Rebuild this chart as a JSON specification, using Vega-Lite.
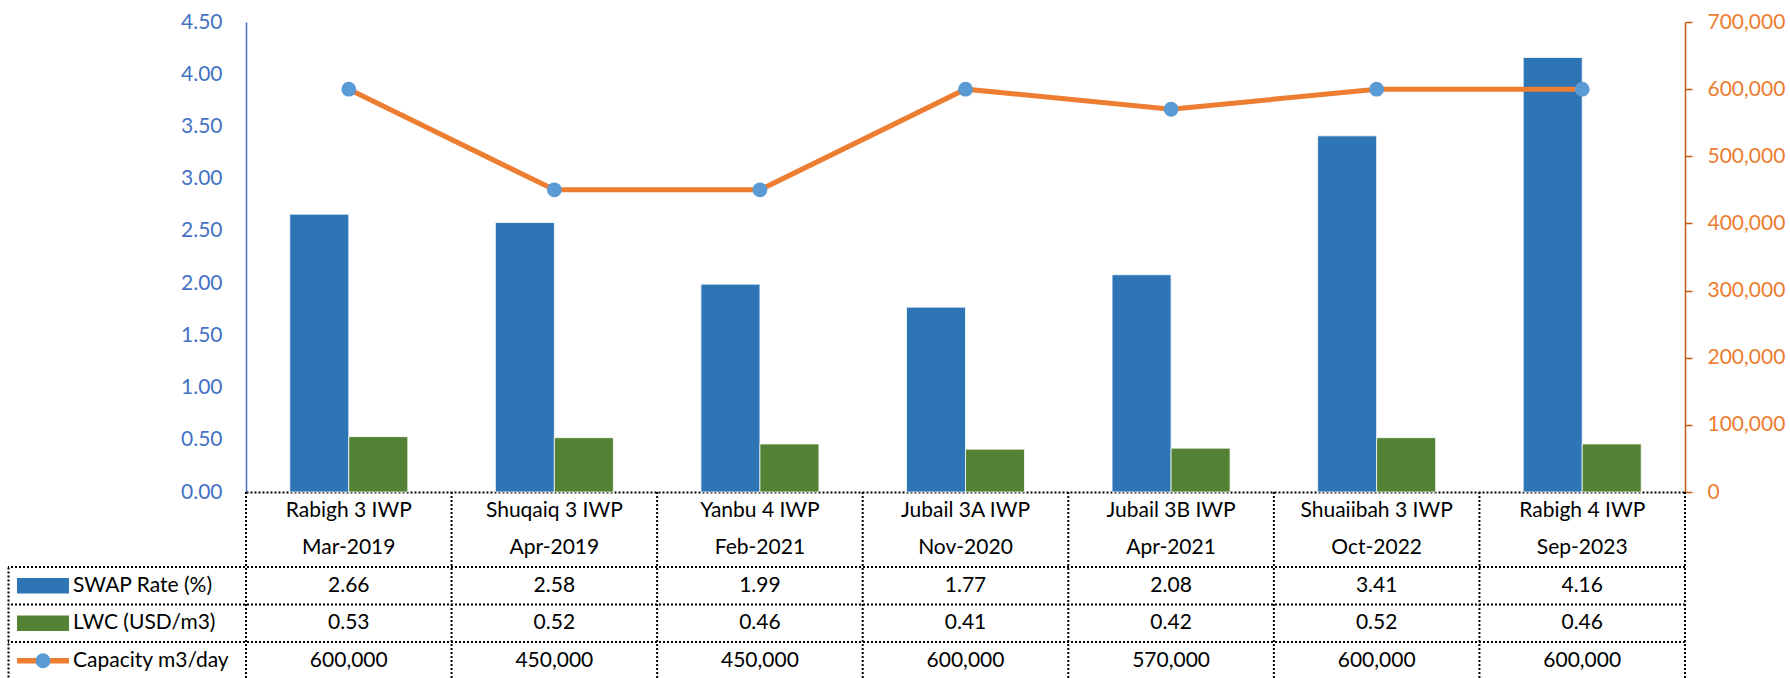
{
  "$schema": "https://vega.github.io/schema/vega-lite/v6.json",
  "width": 1677,
  "height": 656,
  "autosize": {"type": "none"},
  "padding": {"left": 8, "top": 22, "right": 105, "bottom": 0},
  "background": "white",
  "config": {"view": {"stroke": null}, "font": "Lato", "axis": {"grid": false}, "text": {"font": "Lato"}},
  "datasets": {
    "plants": [
      {"project": "Rabigh 3 IWP", "date": "Mar-2019", "swap": 2.66, "lwc": 0.53, "capacity": 600000},
      {"project": "Shuqaiq 3 IWP", "date": "Apr-2019", "swap": 2.58, "lwc": 0.52, "capacity": 450000},
      {"project": "Yanbu 4 IWP", "date": "Feb-2021", "swap": 1.99, "lwc": 0.46, "capacity": 450000},
      {"project": "Jubail 3A IWP", "date": "Nov-2020", "swap": 1.77, "lwc": 0.41, "capacity": 600000},
      {"project": "Jubail 3B IWP", "date": "Apr-2021", "swap": 2.08, "lwc": 0.42, "capacity": 570000},
      {"project": "Shuaiibah 3 IWP", "date": "Oct-2022", "swap": 3.41, "lwc": 0.52, "capacity": 600000},
      {"project": "Rabigh 4 IWP", "date": "Sep-2023", "swap": 4.16, "lwc": 0.46, "capacity": 600000}
    ],
    "series": [
      {"series": "SWAP Rate (%)"},
      {"series": "LWC (USD/m3)"},
      {"series": "Capacity m3/day"}
    ]
  },
  "layer": [
    {
      "data": {"name": "plants"},
      "encoding": {
        "x": {
          "field": "project", "type": "nominal", "sort": null,
          "scale": {"type": "band", "range": [238, 1677], "paddingInner": 0.426, "paddingOuter": 0.213},
          "axis": {"orient": "bottom", "offset": -186, "labels": false, "ticks": false, "title": null, "domainColor": "#000000", "domainDash": [2, 2], "domainWidth": 2}
        }
      },
      "layer": [
        {
          "transform": [{"fold": ["swap", "lwc"], "as": ["key", "value"]}],
          "mark": {"type": "bar", "stroke": "#ffffff", "strokeWidth": 0.75},
          "encoding": {
            "xOffset": {"field": "key", "type": "nominal", "sort": ["swap", "lwc"], "scale": {"domain": ["swap", "lwc"], "paddingInner": 0, "paddingOuter": 0}},
            "y": {
              "field": "value", "type": "quantitative",
              "scale": {"domain": [0, 4.5], "range": [470, 0], "nice": false},
              "axis": {"orient": "left", "offset": -238, "values": [0, 0.5, 1, 1.5, 2, 2.5, 3, 3.5, 4, 4.5], "format": ".2f", "ticks": false, "tickSize": 0, "labelPadding": 24, "labelColor": "#4472C4", "labelFontSize": 21, "labelFont": "Lato", "domainColor": "#4472C4", "domainWidth": 1.5, "title": null}
            },
            "color": {"field": "key", "type": "nominal", "scale": {"domain": ["swap", "lwc"], "range": ["#2E75B6", "#548235"]}, "legend": null}
          }
        },
        {
          "encoding": {
            "y": {
              "field": "capacity", "type": "quantitative",
              "scale": {"domain": [0, 700000], "range": [470, 0], "nice": false},
              "axis": {"orient": "right", "values": [0, 100000, 200000, 300000, 400000, 500000, 600000, 700000], "format": ",.0f", "tickSize": 7, "tickColor": "#C55A11", "tickWidth": 1.5, "domainColor": "#C55A11", "domainWidth": 1.5, "labelColor": "#ED7D31", "labelFontSize": 21, "labelFont": "Lato", "labelPadding": 15, "title": null}
            }
          },
          "layer": [
            {"mark": {"type": "line", "color": "#ED7D31", "strokeWidth": 5}},
            {"mark": {"type": "point", "filled": true, "color": "#5B9BD5", "size": 220, "opacity": 1}}
          ]
        }
      ],
      "resolve": {"scale": {"y": "independent"}}
    },
    {
      "data": {"name": "plants"},
      "encoding": {
        "x": {"field": "project", "type": "nominal", "sort": null, "scale": {"type": "band", "range": [238, 1677], "paddingInner": 0, "paddingOuter": 0}, "axis": null}
      },
      "layer": [
        {
          "mark": {"type": "text", "fontSize": 21, "color": "#000000"},
          "encoding": {
            "y": {"datum": 0.5, "type": "quantitative", "scale": {"domain": [0, 5], "range": [470, 657.5], "nice": false}, "axis": null},
            "text": {"field": "project"}
          }
        },
        {
          "mark": {"type": "text", "fontSize": 21, "color": "#000000"},
          "encoding": {"y": {"datum": 1.5, "type": "quantitative"}, "text": {"field": "date"}}
        },
        {
          "mark": {"type": "text", "fontSize": 21, "color": "#000000"},
          "encoding": {"y": {"datum": 2.5, "type": "quantitative"}, "text": {"field": "swap", "format": ".2f"}}
        },
        {
          "mark": {"type": "text", "fontSize": 21, "color": "#000000"},
          "encoding": {"y": {"datum": 3.5, "type": "quantitative"}, "text": {"field": "lwc", "format": ".2f"}}
        },
        {
          "mark": {"type": "text", "fontSize": 21, "color": "#000000"},
          "encoding": {"y": {"datum": 4.5, "type": "quantitative"}, "text": {"field": "capacity", "format": ",.0f"}}
        },
        {
          "mark": {"type": "rule", "color": "#000000", "strokeWidth": 2, "strokeDash": [2, 2]},
          "encoding": {
            "x": {"field": "project", "type": "nominal", "sort": null, "bandPosition": 0},
            "y": {"datum": 0, "type": "quantitative"},
            "y2": {"datum": 5}
          }
        },
        {
          "transform": [{"filter": "datum.project === 'Rabigh 4 IWP'"}],
          "mark": {"type": "rule", "color": "#000000", "strokeWidth": 2, "strokeDash": [2, 2]},
          "encoding": {
            "x": {"field": "project", "type": "nominal", "sort": null, "bandPosition": 1},
            "y": {"datum": 0, "type": "quantitative"},
            "y2": {"datum": 5}
          }
        }
      ]
    },
    {
      "data": {"name": "series"},
      "encoding": {
        "y": {
          "field": "series", "type": "nominal", "sort": null,
          "scale": {"type": "band", "range": [545, 657.5], "paddingInner": 0, "paddingOuter": 0},
          "axis": {"orient": "left", "labels": false, "ticks": false, "title": null, "domainColor": "#000000", "domainDash": [2, 2], "domainWidth": 2}
        }
      },
      "layer": [
        {
          "mark": {"type": "rule", "color": "#000000", "strokeWidth": 2, "strokeDash": [2, 2]},
          "encoding": {"y": {"field": "series", "type": "nominal", "sort": null, "bandPosition": 0}}
        },
        {
          "mark": {"type": "point", "filled": true, "opacity": 1, "size": 2704},
          "encoding": {
            "x": {"datum": "label", "type": "nominal", "bandPosition": 0.147, "scale": {"type": "band", "domain": ["label"], "range": [0, 238], "paddingInner": 0, "paddingOuter": 0}, "axis": null},
            "shape": {"field": "series", "type": "nominal", "scale": {"domain": ["SWAP Rate (%)", "LWC (USD/m3)", "Capacity m3/day"], "range": ["M-1,-0.3H1V0.3H-1Z", "M-1,-0.3H1V0.3H-1Z", "M-1,-0.11H1V0.11H-1Z"]}, "legend": null},
            "color": {"field": "series", "type": "nominal", "scale": {"domain": ["SWAP Rate (%)", "LWC (USD/m3)", "Capacity m3/day"], "range": ["#2E75B6", "#548235", "#ED7D31"]}, "legend": null}
          }
        },
        {
          "transform": [{"filter": "datum.series === 'Capacity m3/day'"}],
          "mark": {"type": "point", "filled": true, "opacity": 1, "size": 220, "color": "#5B9BD5", "shape": "circle"},
          "encoding": {
            "x": {"datum": "label", "type": "nominal", "bandPosition": 0.147}
          }
        },
        {
          "mark": {"type": "text", "fontSize": 21, "color": "#000000", "align": "left"},
          "encoding": {
            "x": {"datum": "label", "type": "nominal", "bandPosition": 0.273},
            "text": {"field": "series"}
          }
        }
      ]
    }
  ],
  "resolve": {"scale": {"x": "independent", "y": "independent", "color": "independent", "shape": "independent"}}
}
